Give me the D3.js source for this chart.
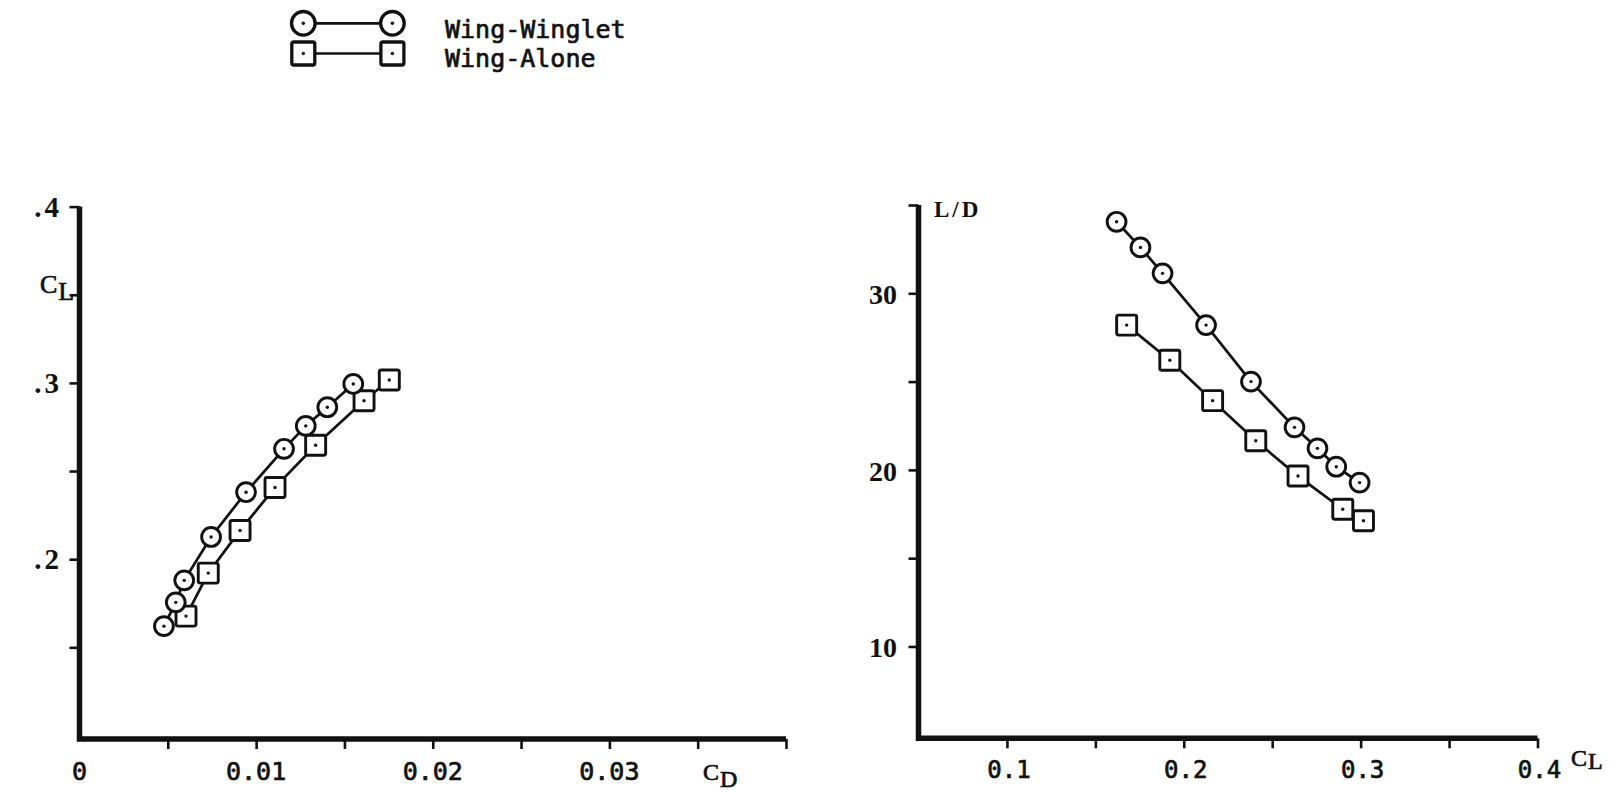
<!DOCTYPE html>
<html>
<head>
<meta charset="utf-8">
<script src="https://cdn.jsdelivr.net/npm/d3@7"></script>
<style>
  html, body { margin: 0; padding: 0; background: #fff; }
  svg { display: block; }
</style>
</head>
<body>
<script>
// Wing with winglet vs. wing alone: drag polar (CL vs CD) and L/D vs CL

const seriesNames = ["Wing-Winglet", "Wing-Alone"];

// Wing-Winglet measurements
const wingletCD = [0.00478, 0.00545, 0.00593, 0.00745, 0.00943, 0.01158, 0.01281, 0.01403, 0.0155];
const wingletCL = [0.162, 0.1755, 0.188, 0.2126, 0.238, 0.2626, 0.2756, 0.2862, 0.2994];
const wingletLD = [34.05, 32.6, 31.13, 28.2, 25.0, 22.41, 21.22, 20.18, 19.28];

// Wing-Alone measurements
const aloneCD = [0.00603, 0.00729, 0.00909, 0.01107, 0.01337, 0.01611, 0.01754];
const aloneCL = [0.1677, 0.1921, 0.2163, 0.2407, 0.2646, 0.2899, 0.3016];
const aloneLD = [28.2, 26.21, 23.92, 21.65, 19.65, 17.77, 17.12];

// Axis ticks and labels
const polarXTicks = [0.005, 0.01, 0.015, 0.02, 0.025, 0.03, 0.035, 0.04];
const polarXLabels = [0, 0.01, 0.02, 0.03];
const polarYTicks = [0.15, 0.2, 0.25, 0.3, 0.35, 0.4];
const polarYLabels = [0.2, 0.3, 0.4];
const ratioXTicks = [0.1, 0.15, 0.2, 0.25, 0.3, 0.35, 0.4];
const ratioXLabels = [0.1, 0.2, 0.3, 0.4];
const ratioYTicks = [10, 15, 20, 25, 30, 35];
const ratioYLabels = [10, 20, 30];

const W = 1619, H = 792;
const INK = "#111";
const MONO = "'DejaVu Sans Mono', 'Liberation Mono', monospace";
const SERIF = "'Liberation Serif', 'DejaVu Serif', serif";

const svg = d3.select("body").append("svg")
  .attr("width", W).attr("height", H)
  .attr("viewBox", `0 0 ${W} ${H}`);
svg.append("rect").attr("width", W).attr("height", H).attr("fill", "#fff");

// Scales
const px = d3.scaleLinear().domain([0, 0.04]).range([79.5, 786]);
const py = d3.scaleLinear().domain([0.098, 0.4]).range([739, 206.6]);
const rx = d3.scaleLinear().domain([0.05, 0.4]).range([918.5, 1537.5]);
const ry = d3.scaleLinear().domain([4.8, 35]).range([738.3, 205]);

function styleAxis(g) {
  g.select(".domain").remove();
  g.selectAll(".tick line").attr("stroke", INK).attr("stroke-width", 2.6);
  g.selectAll(".tick text").remove();
}

function drawFrame(x, y) {
  const [x0, x1] = x.range();
  const [y0, y1] = y.range();
  svg.append("path")
    .attr("d", `M${x0},${y1} V${y0} H${x1}`)
    .attr("fill", "none")
    .attr("stroke", INK)
    .attr("stroke-width", 5.5)
    .attr("stroke-linejoin", "miter");
}

// monospace text used for the x tick labels and the legend
function monoText(sel, size) {
  return sel.attr("font-family", MONO).attr("font-size", size)
    .attr("fill", INK).attr("stroke", INK).attr("stroke-width", 0.7);
}

// ---- Left panel: CL vs CD ----
svg.append("g")
  .attr("transform", `translate(0,${py.range()[0]})`)
  .call(d3.axisBottom(px).tickValues(polarXTicks).tickSize(10).tickSizeOuter(0))
  .call(styleAxis);
svg.append("g")
  .attr("transform", `translate(${px(0)},0)`)
  .call(d3.axisLeft(py).tickValues(polarYTicks).tickSize(10).tickSizeOuter(0))
  .call(styleAxis);
drawFrame(px, py);

svg.append("g").selectAll("text").data(polarXLabels).join("text")
  .attr("x", d => px(d)).attr("y", 780)
  .attr("text-anchor", "middle")
  .call(monoText, 25)
  .text(d => d === 0 ? "0" : d3.format(".2f")(d));

svg.append("g").selectAll("text").data(polarYLabels).join("text")
  .attr("x", 62).attr("y", d => py(d) + 10)
  .attr("text-anchor", "end")
  .attr("font-family", SERIF).attr("font-weight", "bold").attr("font-size", 29)
  .attr("letter-spacing", 3)
  .attr("fill", INK)
  .text(d => d3.format(".1f")(d).replace(/^0/, ""));

// axis titles with a subscript
function subTitle(x, y, main, sub, subDy, size) {
  const t = svg.append("text")
    .attr("x", x).attr("y", y)
    .attr("font-family", SERIF).attr("font-size", size)
    .attr("fill", INK).attr("stroke", INK).attr("stroke-width", 0.7);
  t.append("tspan").text(main);
  t.append("tspan").attr("dy", subDy).attr("dx", 1).text(sub);
}
subTitle(40, 293, "C", "L", 7, 26);
subTitle(703, 780, "C", "D", 7, 24);

// ---- Right panel: L/D vs CL ----
svg.append("g")
  .attr("transform", `translate(0,${ry.range()[0]})`)
  .call(d3.axisBottom(rx).tickValues(ratioXTicks).tickSize(10).tickSizeOuter(0))
  .call(styleAxis);
svg.append("g")
  .attr("transform", `translate(${rx(0.05)},0)`)
  .call(d3.axisLeft(ry).tickValues(ratioYTicks).tickSize(10).tickSizeOuter(0))
  .call(styleAxis);
drawFrame(rx, ry);

svg.append("g").selectAll("text").data(ratioXLabels).join("text")
  .attr("x", d => rx(d) + 2).attr("y", 778)
  .attr("text-anchor", "middle")
  .call(monoText, 24)
  .text(d => d3.format(".1f")(d));

svg.append("g").selectAll("text").data(ratioYLabels).join("text")
  .attr("x", 897).attr("y", d => ry(d) + 11)
  .attr("text-anchor", "end")
  .attr("font-family", SERIF).attr("font-weight", "bold").attr("font-size", 28)
  .attr("fill", INK)
  .text(d => d3.format("d")(d));

svg.append("text")
  .attr("x", 934).attr("y", 216.5)
  .attr("font-family", SERIF).attr("font-size", 23).attr("font-weight", "bold")
  .attr("letter-spacing", 3)
  .attr("fill", INK)
  .text("L/D");
subTitle(1571, 766, "C", "L", 3, 24);

// ---- Series ----
const R = 9.4, S = 20;

function drawCircles(g, pts, r, sw) {
  g.selectAll("g.c").data(pts).join("g").attr("class", "c")
    .attr("transform", d => `translate(${d[0]},${d[1]})`)
    .each(function () {
      const m = d3.select(this);
      m.append("circle").attr("r", r).attr("fill", "#fff").attr("stroke", INK).attr("stroke-width", sw);
      m.append("circle").attr("r", 1.7).attr("fill", INK);
    });
}
function drawSquares(g, pts, s, sw) {
  g.selectAll("g.s").data(pts).join("g").attr("class", "s")
    .attr("transform", d => `translate(${d[0]},${d[1]})`)
    .each(function () {
      const m = d3.select(this);
      m.append("rect").attr("x", -s / 2).attr("y", -s / 2).attr("width", s).attr("height", s)
        .attr("rx", 2).attr("fill", "#fff").attr("stroke", INK).attr("stroke-width", sw);
      m.append("circle").attr("r", 1.7).attr("fill", INK);
    });
}

const line = d3.line();
function drawSeries(xs, ys, xScale, yScale, kind) {
  const pts = xs.map((v, i) => [xScale(v), yScale(ys[i])]);
  const g = svg.append("g");
  g.append("path").attr("d", line(pts)).attr("fill", "none")
    .attr("stroke", INK).attr("stroke-width", 2.7);
  if (kind === "circle") drawCircles(g, pts, R, 2.9);
  else drawSquares(g, pts, S, 2.9);
}

drawSeries(aloneCD, aloneCL, px, py, "square");
drawSeries(wingletCD, wingletCL, px, py, "circle");
drawSeries(aloneCL, aloneLD, rx, ry, "square");
drawSeries(wingletCL, wingletLD, rx, ry, "circle");

// ---- Legend ----
const legend = svg.append("g");
const legendRows = [
  { name: seriesNames[0], kind: "circle", y: 23.3, ty: 38.3 },
  { name: seriesNames[1], kind: "square", y: 53.5, ty: 66.7 }
];
legendRows.forEach(row => {
  const g = legend.append("g");
  g.append("line").attr("x1", 303).attr("x2", 392).attr("y1", row.y).attr("y2", row.y)
    .attr("stroke", INK).attr("stroke-width", 2.7);
  const pts = [[303.3, row.y], [392.4, row.y]];
  if (row.kind === "circle") drawCircles(g, pts, 11.8, 3.3);
  else drawSquares(g, pts, 23, 3.3);
  g.append("text").attr("x", 445).attr("y", row.ty)
    .call(monoText, 25)
    .text(row.name);
});
</script>
</body>
</html>
